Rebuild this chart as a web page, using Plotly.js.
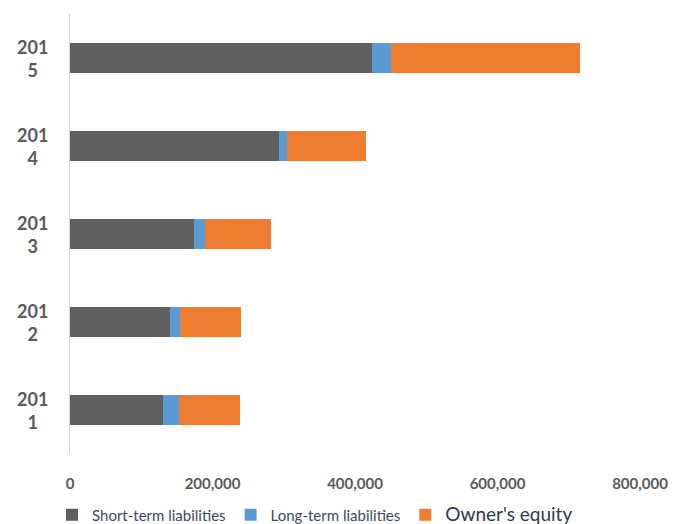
<!DOCTYPE html>
<html>
<head>
<meta charset="utf-8">
<script src="https://cdn.plot.ly/plotly-3.0.1.min.js"></script>
<style>html,body{margin:0;padding:0;background:#fff;}#chart{width:677px;height:524px;}</style>
</head>
<body>
<div id="chart"></div>
<script>
const years = ["2011", "2012", "2013", "2014", "2015"];
const yearLabels = ["201<br>1", "201<br>2", "201<br>3", "201<br>4", "201<br>5"];
const shortTerm = [130000, 141000, 174000, 294000, 424000];
const longTerm = [23000, 13000, 15000, 11000, 26000];
const equity = [86000, 86000, 93000, 110000, 266000];
const xTicks = [0, 200000, 400000, 600000, 800000];
const xTickText = ["0", "200,000", "400,000", "600,000", "800,000"];

const fontFam = "Lato, 'Open Sans', sans-serif";

const traces = [
  {type: "bar", orientation: "h", y: years, x: shortTerm, name: "Short-term liabilities",
   marker: {color: "#606060"}, hoverinfo: "x"},
  {type: "bar", orientation: "h", y: years, x: longTerm, name: "Long-term liabilities",
   marker: {color: "#5b9bd5"}, hoverinfo: "x"},
  {type: "bar", orientation: "h", y: years, x: equity,
   name: "<span style='font-size:19px;color:#2f3b4c'>Owner's equity</span>",
   marker: {color: "#ed7d31"}, hoverinfo: "x"}
];

const annotations = years.map((yr, i) => ({
  xref: "paper", yref: "y", x: 0, y: i, xshift: -38,
  xanchor: "center", yanchor: "middle", align: "center",
  text: "<b>" + yearLabels[i] + "</b>", showarrow: false,
  font: {family: fontFam, size: 18, color: "#5a5a5a"}
}));

const layout = {
  width: 677, height: 524,
  margin: {l: 70, r: 37, t: 14, b: 70},
  paper_bgcolor: "#fff", plot_bgcolor: "#fff",
  barmode: "stack", bargap: 0.65,
  font: {family: fontFam, color: "#595959"},
  xaxis: {range: [0, 800000], tickvals: xTicks, ticktext: xTickText.map(t => "<b>" + t + "</b>"),
          showgrid: false, zeroline: false, showline: false,
          ticks: "outside", ticklen: 16, tickcolor: "rgba(0,0,0,0)",
          tickfont: {family: fontFam, size: 15, color: "#5a5a5a"}, fixedrange: true},
  yaxis: {type: "category", categoryorder: "array", categoryarray: years,
          range: [-0.5, 4.5],
          showticklabels: false, showgrid: false, zeroline: false,
          showline: true, linecolor: "#d9d9d9", linewidth: 1, ticks: "", fixedrange: true},
  showlegend: true,
  legend: {orientation: "h", x: 52 / 677, xanchor: "left", xref: "container",
           y: 9 / 524, yanchor: "middle", yref: "container",
           font: {family: fontFam, size: 15, color: "#3c4a5e"},
           itemwidth: 30, traceorder: "normal", tracegroupgap: 0},
  annotations: annotations
};

Plotly.newPlot("chart", traces, layout, {displayModeBar: false, staticPlot: true});
</script>
</body>
</html>
